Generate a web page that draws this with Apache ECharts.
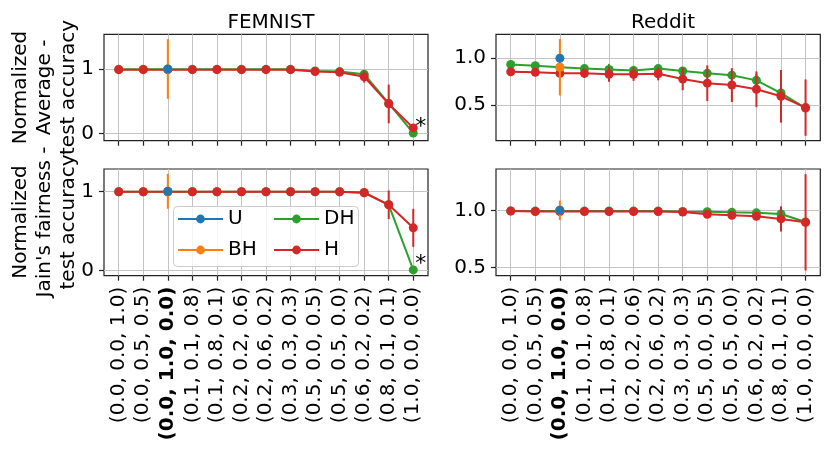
<!DOCTYPE html>
<html><head><meta charset="utf-8">
<script src="https://cdn.jsdelivr.net/npm/echarts@6/dist/echarts.min.js"></script>
<style>html,body{margin:0;padding:0;background:#fff}#c{width:830px;height:462px}</style>
</head><body><div id="c"></div><script>
// ---------- data ----------
const categories = ['(0.0, 0.0, 1.0)', '(0.0, 0.5, 0.5)', '(0.0, 1.0, 0.0)', '(0.1, 0.1, 0.8)', '(0.1, 0.8, 0.1)',
  '(0.2, 0.2, 0.6)', '(0.2, 0.6, 0.2)', '(0.3, 0.3, 0.3)', '(0.5, 0.0, 0.5)', '(0.5, 0.5, 0.0)',
  '(0.6, 0.2, 0.2)', '(0.8, 0.1, 0.1)', '(1.0, 0.0, 0.0)'];
const boldIndex = 2;
const xTickValues = [0,1,2,3,4,5,6,7,8,9,10,11,12];
const femTickValues = [0, 1];
const redTickValues = [0.5, 1.0];
const panelTitles = ['FEMNIST', 'Reddit'];
const rowLabels = ['Normalized\nAverage -\ntest accuracy', "Normalized\nJain's fairness -\ntest accuracy"];
const seriesNames = ['U', 'BH', 'DH', 'H'];

// FEMNIST average test accuracy
const femAvgU     = [null, null, 1.0, null, null, null, null, null, null, null, null, null, null];
const femAvgBH    = [null, null, 1.0, null, null, null, null, null, null, null, null, null, null];
const femAvgBHerr = [null, null, 0.46, null, null, null, null, null, null, null, null, null, null];
const femAvgDH    = [0.995, 0.995, 0.995, 0.995, 0.995, 0.995, 0.995, 0.995, 0.97, 0.96, 0.92, 0.47, 0.01];
const femAvgDHerr = [0.005, 0.005, 0.005, 0.005, 0.005, 0.005, 0.005, 0.005, 0.01, 0.01, 0.02, 0.04, 0.04];
const femAvgH     = [0.99, 0.99, 0.99, 0.99, 0.99, 0.99, 0.99, 0.99, 0.96, 0.95, 0.88, 0.46, 0.09];
const femAvgHerr  = [0.01, 0.01, 0.01, 0.01, 0.01, 0.01, 0.01, 0.01, 0.02, 0.02, 0.09, 0.30, 0.05];

// FEMNIST Jain's fairness
const femJainU     = [null, null, 1.0, null, null, null, null, null, null, null, null, null, null];
const femJainBH    = [null, null, 1.0, null, null, null, null, null, null, null, null, null, null];
const femJainBHerr = [null, null, 0.22, null, null, null, null, null, null, null, null, null, null];
const femJainDH    = [0.995, 0.995, 0.995, 0.995, 0.995, 0.995, 0.995, 0.995, 0.995, 0.995, 0.98, 0.83, 0.01];
const femJainDHerr = [0.005, 0.005, 0.005, 0.005, 0.005, 0.005, 0.005, 0.005, 0.005, 0.005, 0.01, 0.02, 0.012];
const femJainH     = [0.995, 0.995, 0.995, 0.995, 0.995, 0.995, 0.995, 0.995, 0.995, 0.995, 0.985, 0.83, 0.54];
const femJainHerr  = [0.005, 0.005, 0.005, 0.005, 0.005, 0.005, 0.005, 0.005, 0.005, 0.005, 0.01, 0.18, 0.24];

// Reddit average test accuracy
const redAvgU     = [null, null, 1.0, null, null, null, null, null, null, null, null, null, null];
const redAvgBH    = [null, null, 0.904, null, null, null, null, null, null, null, null, null, null];
const redAvgBHerr = [null, null, 0.30, null, null, null, null, null, null, null, null, null, null];
const redAvgDH    = [0.935, 0.92, 0.905, 0.89, 0.88, 0.87, 0.89, 0.865, 0.84, 0.82, 0.765, 0.63, 0.47];
const redAvgDHerr = [0.02, 0.02, 0.02, 0.03, 0.06, 0.05, 0.03, 0.03, 0.03, 0.03, 0.07, 0.05, 0.03];
const redAvgH     = [0.857, 0.85, 0.84, 0.84, 0.83, 0.83, 0.835, 0.78, 0.735, 0.715, 0.67, 0.595, 0.475];
const redAvgHerr  = [0.02, 0.02, 0.02, 0.05, 0.08, 0.07, 0.07, 0.12, 0.19, 0.18, 0.19, 0.28, 0.30];

// Reddit Jain's fairness
const redJainU     = [null, null, 1.0, null, null, null, null, null, null, null, null, null, null];
const redJainBH    = [null, null, 1.0, null, null, null, null, null, null, null, null, null, null];
const redJainBHerr = [null, null, 0.085, null, null, null, null, null, null, null, null, null, null];
const redJainDH    = [0.995, 0.993, 0.993, 0.993, 0.993, 0.993, 0.993, 0.99, 0.988, 0.982, 0.978, 0.968, 0.898];
const redJainDHerr = [0.005, 0.005, 0.005, 0.005, 0.005, 0.005, 0.005, 0.01, 0.01, 0.015, 0.02, 0.02, 0.02];
const redJainH     = [0.993, 0.99, 0.99, 0.99, 0.99, 0.99, 0.99, 0.985, 0.965, 0.957, 0.948, 0.925, 0.895];
const redJainHerr  = [0.005, 0.005, 0.005, 0.005, 0.005, 0.005, 0.005, 0.01, 0.02, 0.02, 0.025, 0.11, 0.42];

const starIndex = 12; // '*' marks the DH point at the last configuration in FEMNIST

// ---------- chart ----------
const FONT = 'DejaVu Sans';
const COLORS = { U: '#1f77b4', BH: '#ff7f0e', DH: '#2ca02c', H: '#d62728' };
const panels = [
  { grid: 0, U: femAvgU, BH: femAvgBH, BHerr: femAvgBHerr, DH: femAvgDH, DHerr: femAvgDHerr, H: femAvgH, Herr: femAvgHerr, star: true },
  { grid: 1, U: redAvgU, BH: redAvgBH, BHerr: redAvgBHerr, DH: redAvgDH, DHerr: redAvgDHerr, H: redAvgH, Herr: redAvgHerr, star: false },
  { grid: 2, U: femJainU, BH: femJainBH, BHerr: femJainBHerr, DH: femJainDH, DHerr: femJainDHerr, H: femJainH, Herr: femJainHerr, star: true },
  { grid: 3, U: redJainU, BH: redJainBH, BHerr: redJainBHerr, DH: redJainDH, DHerr: redJainDHerr, H: redJainH, Herr: redJainHerr, star: false }
];

const grids = [
  { left: 104, top: 34.3, width: 324, height: 106.4 },
  { left: 496, top: 34.3, width: 324.3, height: 106.4 },
  { left: 104, top: 169, width: 324, height: 106.7 },
  { left: 496, top: 169, width: 324.3, height: 106.7 }
].map(g => Object.assign(g, { show: true, borderColor: '#222', borderWidth: 1.2, backgroundColor: 'transparent' }));

const yRanges = [[-0.108, 1.536], [0.123, 1.255], [-0.063, 1.281], [0.430, 1.360]];

const xAxes = grids.map((g, i) => ({
  type: 'value', gridIndex: i, min: -0.6, max: 12.6, position: 'bottom',
  axisLine: { show: false, onZero: false },
  axisTick: { show: true, customValues: xTickValues, length: 5, lineStyle: { color: '#222', width: 1.2 } },
  splitLine: { show: true, lineStyle: { color: '#c4c4c4', width: 1 } },
  axisLabel: {
    show: i >= 2, customValues: xTickValues, rotate: 90, margin: 11,
    fontFamily: FONT, fontSize: 20, color: '#000',
    formatter: v => {
      const k = Math.round(v);
      return k === boldIndex ? '{b|' + categories[k] + '}' : categories[k];
    },
    rich: { b: { fontFamily: FONT, fontSize: 20, fontWeight: 'bold', color: '#000' } }
  }
}));

const yAxes = grids.map((g, i) => {
  const fem = (i % 2 === 0);
  return {
    type: 'value', gridIndex: i, min: yRanges[i][0], max: yRanges[i][1], position: 'left',
    axisLine: { show: false, onZero: false },
    axisTick: { show: true, customValues: fem ? femTickValues : redTickValues, length: 5, lineStyle: { color: '#222', width: 1.2 } },
    splitLine: { show: true, lineStyle: { color: '#c4c4c4', width: 1 } },
    axisLabel: {
      customValues: fem ? femTickValues : redTickValues, margin: 10,
      fontFamily: FONT, fontSize: 20, color: '#000',
      formatter: v => fem ? String(Math.round(v)) : v.toFixed(1)
    }
  };
});

function pts(vals) {
  const out = [];
  vals.forEach((v, i) => { if (v != null) out.push([i, v]); });
  return out;
}
function errPts(vals, errs) {
  const out = [];
  vals.forEach((v, i) => { if (v != null && errs[i] != null) out.push([i, v - errs[i], v + errs[i]]); });
  return out;
}
function errSeries(name, vals, errs, gi, color, z) {
  return {
    type: 'custom', name: name + ' err', xAxisIndex: gi, yAxisIndex: gi, z: z, silent: true,
    data: errPts(vals, errs), encode: { x: 0, y: [1, 2] },
    renderItem: (params, api) => {
      const a = api.coord([api.value(0), api.value(1)]);
      const b = api.coord([api.value(0), api.value(2)]);
      return { type: 'line', shape: { x1: a[0], y1: a[1], x2: b[0], y2: b[1] },
        style: { stroke: color, lineWidth: 2 } };
    }
  };
}
function lineSeries(name, vals, gi, z, star) {
  let data = pts(vals);
  if (star) {
    data = data.map(d => d[0] === starIndex
      ? { value: d, label: { show: true, formatter: '*', position: [6.5, -12.5], fontFamily: FONT, fontSize: 22, color: '#000' } }
      : d);
  }
  return {
    type: 'line', name: name, xAxisIndex: gi, yAxisIndex: gi, z: z,
    data: data, symbol: 'circle', symbolSize: 9, showSymbol: true,
    itemStyle: { color: COLORS[name] }, lineStyle: { color: COLORS[name], width: 2 },
    emphasis: { disabled: true }, label: { show: false }
  };
}

const series = [];
panels.forEach(p => {
  series.push(errSeries('DH', p.DH, p.DHerr, p.grid, COLORS.DH, 2));
  series.push(lineSeries('DH', p.DH, p.grid, 3, p.star));
  series.push(errSeries('H', p.H, p.Herr, p.grid, COLORS.H, 4));
  series.push(lineSeries('H', p.H, p.grid, 5, false));
  series.push(errSeries('BH', p.BH, p.BHerr, p.grid, COLORS.BH, 6));
  series.push(lineSeries('BH', p.BH, p.grid, 7, false));
  series.push(lineSeries('U', p.U, p.grid, 8, false));
});

const legendText = { fontFamily: FONT, fontSize: 20, color: '#000', lineHeight: 22 };
const rowLabelStyle = { fontFamily: FONT, fontSize: 20, fill: '#000', align: 'center', verticalAlign: 'middle', lineHeight: 24 };
const option = {
  animation: false,
  backgroundColor: '#fff',
  title: [
    { text: panelTitles[0], left: 266, top: 8, textAlign: 'center', textStyle: { fontFamily: FONT, fontSize: 20, fontWeight: 'normal', color: '#000' } },
    { text: panelTitles[1], left: 658, top: 8, textAlign: 'center', textStyle: { fontFamily: FONT, fontSize: 20, fontWeight: 'normal', color: '#000' } }
  ],
  grid: grids,
  xAxis: xAxes,
  yAxis: yAxes,
  legend: [
    { data: [seriesNames[0], seriesNames[1]], orient: 'vertical', left: 177, top: 208, itemWidth: 45, itemHeight: 11, itemGap: 9,
      textStyle: legendText, selectedMode: false, z: 10, padding: 0 },
    { data: [seriesNames[2], seriesNames[3]], orient: 'vertical', left: 273, top: 208, itemWidth: 45, itemHeight: 11, itemGap: 9,
      textStyle: legendText, selectedMode: false, z: 10, padding: 0 }
  ],
  graphic: [
    { type: 'rect', left: 173, top: 206, z: 9, silent: true,
      shape: { width: 185, height: 60, r: 4 },
      style: { fill: 'rgba(255,255,255,0.8)', stroke: '#cccccc', lineWidth: 1 } },
    { type: 'text', x: 45, y: 87.5, rotation: Math.PI / 2, silent: true,
      style: Object.assign({ text: rowLabels[0] }, rowLabelStyle) },
    { type: 'text', x: 45, y: 222, rotation: Math.PI / 2, silent: true,
      style: Object.assign({ text: rowLabels[1] }, rowLabelStyle) }
  ],
  series: series
};
const chart = echarts.init(document.getElementById('c'), null, { renderer: 'canvas' });
chart.setOption(option);
</script></body></html>
